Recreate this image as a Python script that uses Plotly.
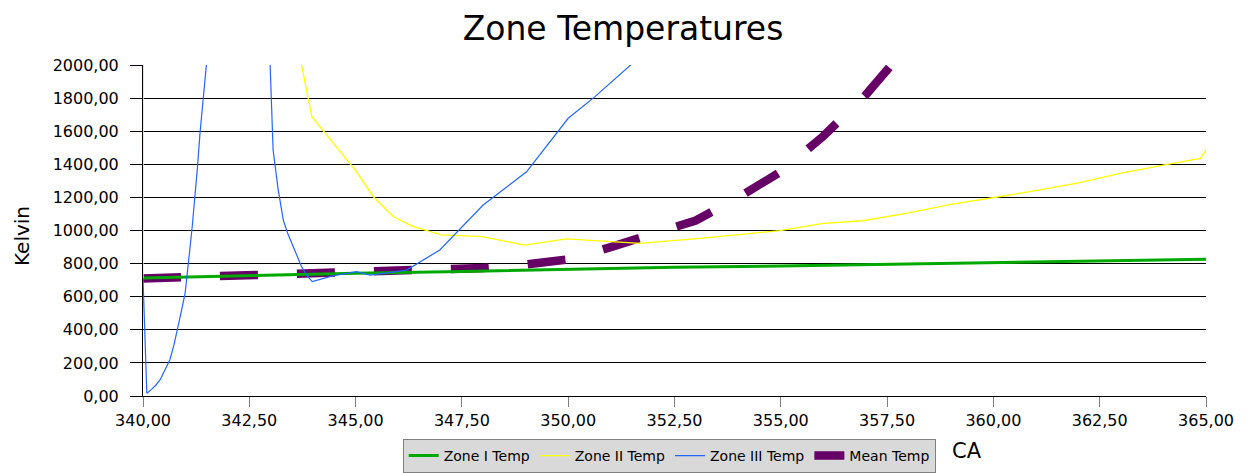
import plotly.graph_objects as go

# ---- data ----
zone1_x = [340, 342.5, 345, 347.5, 350, 352.5, 355, 357.5, 360, 362.5, 365]
zone1_y = [713, 728, 741, 752, 765, 778, 786, 796, 806, 815, 826]

zone2_x = [340, 340.02, 341, 342, 343, 343.5, 343.97, 344.99, 345.42, 345.89, 346.36,
           347.02, 347.97, 348.98, 349.96, 351.0, 351.69, 353.1, 354.98, 356.0, 356.94,
           358.04, 359.0, 360.13, 361.1, 362.03, 362.98, 364.09, 364.87, 365.0]
zone2_y = [712, 5200, 4600, 3600, 2800, 2300, 1688, 1366, 1204, 1083, 1023,
           973, 963, 912, 949, 932, 922, 953, 999, 1043, 1059,
           1108, 1158, 1204, 1245, 1289, 1345, 1400, 1436, 1486]

zone3_x = [340, 340.09, 340.2, 340.3, 340.4, 340.5, 340.63, 340.73, 340.83, 340.9,
           340.99, 341.05, 341.1, 341.16, 341.22, 341.28, 341.34, 341.4, 341.6,
           342.0, 342.5, 342.9, 343.06, 343.12, 343.18, 343.3, 343.4, 343.5, 343.6,
           343.73, 343.85, 343.98, 344.48, 345.02, 345.34, 346.2, 346.98, 348.0,
           349.02, 350.0, 350.63, 351.6, 352.5, 355.0, 360.0, 365.0]
zone3_y = [712, 16, 40, 65, 97, 150, 218, 310, 419, 510,
           620, 750, 882, 1030, 1184, 1380, 1587, 1790, 2360,
           3400, 3500, 2660, 1486, 1350, 1245, 1063, 985, 923, 860,
           781, 730, 691, 727, 751, 731, 761, 882, 1154,
           1355, 1678, 1809, 2030, 2250, 2900, 3800, 4500]

mean_x = [340, 341, 342, 343, 344, 345, 346, 347, 348, 349, 350,
          351, 352, 353, 354, 355, 356, 357, 358, 359, 360]
mean_y = [710, 719, 727, 734, 740, 748, 753, 762, 774, 795, 825,
          900, 975, 1060, 1200, 1355, 1570, 1820, 2120, 2450, 2800]

x_ticks = [340, 342.5, 345, 347.5, 350, 352.5, 355, 357.5, 360, 362.5, 365]
y_ticks = list(range(0, 2001, 200))

FONT = "DejaVu Sans"
# the page body has an 8px margin, so the figure is offset by 8px
W, H = 1239, 465

fig = go.Figure()
fig.add_trace(go.Scatter(x=mean_x, y=mean_y, mode="lines", name="Mean Temp",
                         line=dict(color="#660066", width=8.5, dash="38px,39px"),
                         legendrank=4))
fig.add_trace(go.Scatter(x=zone1_x, y=zone1_y, mode="lines", name="Zone I Temp",
                         line=dict(color="#00a800", width=3), legendrank=1))
fig.add_trace(go.Scatter(x=zone2_x, y=zone2_y, mode="lines", name="Zone II Temp",
                         line=dict(color="#ffff00", width=1.3), legendrank=2))
fig.add_trace(go.Scatter(x=zone3_x, y=zone3_y, mode="lines", name="Zone III Temp",
                         line=dict(color="#2266ff", width=1.2), legendrank=3))

fig.update_layout(
    width=W, height=H,
    margin=dict(l=135, r=41, t=57, b=77, autoexpand=False),
    paper_bgcolor="white", plot_bgcolor="white",
    separators=",.",
    font=dict(family=FONT, size=16, color="black"),
    title=dict(text="Zone Temperatures", x=615 / W, xref="container", xanchor="center",
               y=1 - 20 / H, yref="container", yanchor="middle",
               font=dict(family=FONT, size=33, color="black")),
    showlegend=True,
    legend=dict(orientation="h", x=0.495, xanchor="center", y=-0.2326, yanchor="bottom",
                bgcolor="#d9d9d9", bordercolor="#808080", borderwidth=1,
                font=dict(family=FONT, size=14, color="black"),
                traceorder="normal"),
    hovermode=False,
)

fig.update_xaxes(range=[340, 365], tickvals=x_ticks, tickformat=".2f",
                 ticks="outside", ticklen=10, tickcolor="#808080",
                 showline=True, linecolor="black", linewidth=1,
                 showgrid=False, zeroline=False, layer="below traces",
                 tickfont=dict(family=FONT, size=16, color="black"))
fig.update_yaxes(range=[0, 2000], tickvals=y_ticks, tickformat=".2f",
                 ticks="outside", ticklen=12, tickcolor="black",
                 showline=True, linecolor="black", linewidth=1,
                 showgrid=True, gridcolor="black", gridwidth=1, zeroline=False,
                 layer="below traces", ticklabelstandoff=8,
                 tickfont=dict(family=FONT, size=16, color="black"))

fig.add_annotation(text="Kelvin", xref="paper", yref="paper",
                   x=(22 - 143) / 1063, y=(396 - 236) / 331,
                   xanchor="center", yanchor="middle", textangle=-90, showarrow=False,
                   font=dict(family=FONT, size=20, color="black"))
fig.add_annotation(text="CA", xref="paper", yref="paper",
                   x=(967 - 143) / 1063, y=(396 - 451) / 331,
                   xanchor="center", yanchor="middle", showarrow=False,
                   font=dict(family=FONT, size=21, color="black"))

fig.write_html("out.html")
